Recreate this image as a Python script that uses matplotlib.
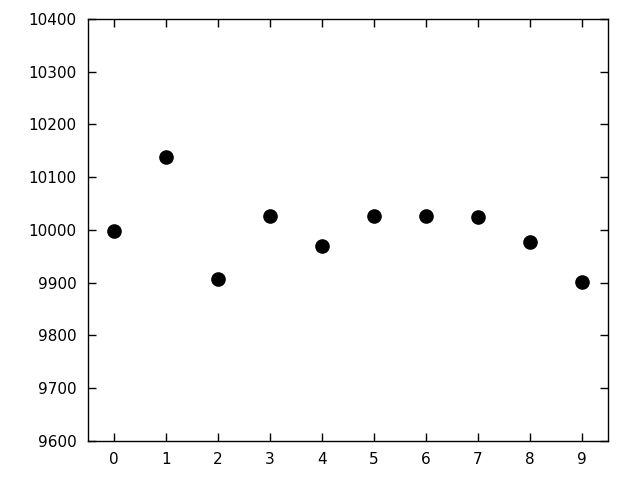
import matplotlib
matplotlib.use('Agg')
import matplotlib.pyplot as plt

# values
x_vals = [0, 1, 2, 3, 4, 5, 6, 7, 8, 9]
y_vals = [9998, 10138, 9907, 10027, 9970, 10027, 10027, 10025, 9977, 9901]
y_ticks = [9600, 9700, 9800, 9900, 10000, 10100, 10200, 10300, 10400]

fig = plt.figure(figsize=(6.4, 4.8), dpi=100)
ax = fig.add_axes([0.1375, 0.08125, 0.8125, 0.8792])

ax.plot(x_vals, y_vals, 'o', color='black', markersize=9.5)

ax.set_xlim(-0.5, 9.5)
ax.set_ylim(9600, 10400)
ax.set_xticks(x_vals)
ax.set_yticks(y_ticks)

ax.tick_params(direction='in', top=True, right=True, length=6, width=1,
               labelsize=11, pad=8)
for s in ax.spines.values():
    s.set_linewidth(1)

fig.savefig('out.png', dpi=100)
